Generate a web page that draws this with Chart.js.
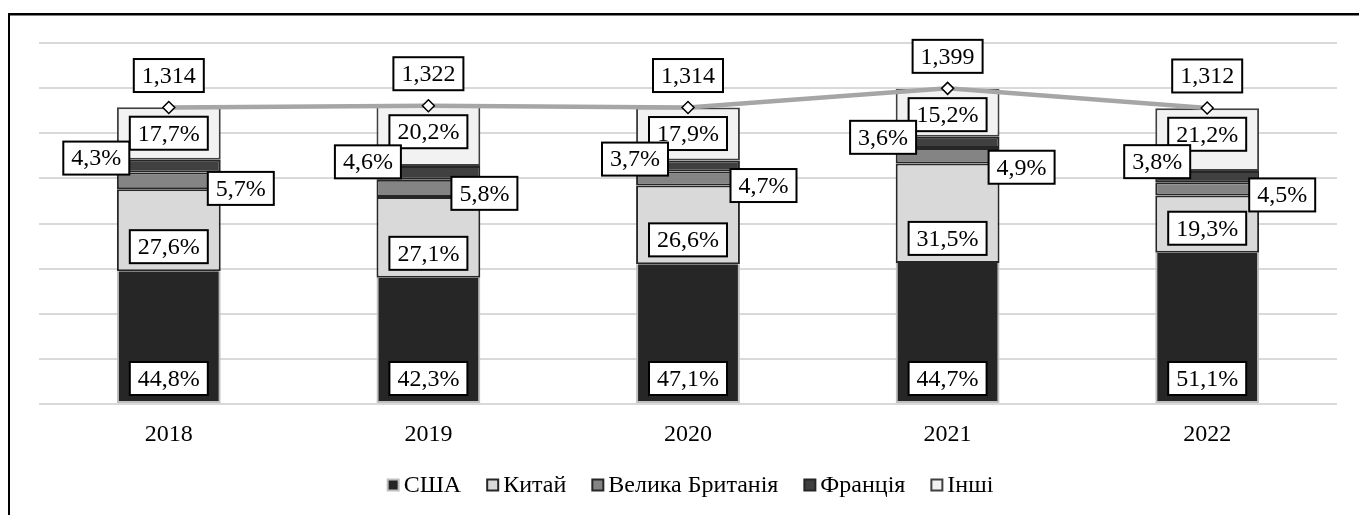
<!DOCTYPE html>
<html>
<head>
<meta charset="utf-8">
<script src="https://cdn.jsdelivr.net/npm/chart.js@4.4.1/dist/chart.umd.min.js"></script>
<style>
  html, body { margin: 0; padding: 0; background: #fff; }
  canvas { display: block; }
</style>
</head>
<body>
<canvas id="graph" width="1359" height="515"></canvas>
<script>
// ================================
// DATA
// ================================

const YEARS = ['2018', '2019', '2020', '2021', '2022'];
const TOTALS = [1.314, 1.322, 1.314, 1.399, 1.312];

// shares of the total, in %
const SHARE_USA    = [44.8, 42.3, 47.1, 44.7, 51.1];
const SHARE_CHINA  = [27.6, 27.1, 26.6, 31.5, 19.3];
const SHARE_UK     = [5.7, 5.8, 4.7, 4.9, 4.5];
const SHARE_FRANCE = [4.3, 4.6, 3.7, 3.6, 3.8];
const SHARE_OTHER  = [17.7, 20.2, 17.9, 15.2, 21.2];

const SERIES_NAMES = ['США', 'Китай', 'Велика Британія', 'Франція', 'Інші'];
const SERIES_SHARES = [SHARE_USA, SHARE_CHINA, SHARE_UK, SHARE_FRANCE, SHARE_OTHER];

const Y_MIN = 0;
const Y_MAX = 1.6;
const Y_STEP = 0.2;

// ================================
// STYLE
// ================================

const FONT = '"Liberation Serif", "Times New Roman", serif';

const SERIES_STYLE = [
  { fill: '#262626', edge: '#bfbfbf', place: 'base',  skip: 'top' },
  { fill: '#d9d9d9', edge: '#262626', place: 'base',  skip: false },
  { fill: '#848484', edge: '#262626', place: 'right', skip: false },
  { fill: '#404040', edge: '#262626', place: 'left',  skip: false },
  { fill: '#f2f2f2', edge: '#404040', place: 'top',   skip: false }
];

// hand-placed side labels (px from bar centre / segment centre)
const SHIFT_RIGHT = [[72, 7.5], [56, 5], [75.5, 7], [74, 11.5], [75, 6]];
const SHIFT_LEFT  = [[-72.5, -8], [-60.5, -11], [-53, -7], [-64.5, -5], [-50, -15]];

function virgule(v, d) {
  return v.toFixed(d).replace('.', ',');
}

function boite(ctx, text, x, y) {
  const w = ctx.measureText(text).width + 16;
  const h = 33;
  ctx.fillStyle = '#fff';
  ctx.fillRect(x - w / 2, y - h / 2, w, h);
  ctx.lineWidth = 2;
  ctx.strokeStyle = '#000';
  ctx.strokeRect(x - w / 2, y - h / 2, w, h);
  ctx.fillStyle = '#000';
  ctx.fillText(text, x, y + 1);
}

// ================================
// PLUGINS
// ================================

const cadre = {
  id: 'cadre',
  beforeDraw(chart) {
    const ctx = chart.ctx;
    ctx.save();
    ctx.fillStyle = '#fff';
    ctx.fillRect(0, 0, chart.width, chart.height);
    ctx.fillStyle = '#000';
    ctx.fillRect(8, 13, 2, chart.height - 13);
    ctx.fillRect(8, 13, chart.width - 8, 2.5);
    ctx.restore();
  }
};

const etiquettes = {
  id: 'etiquettes',
  afterDatasetsDraw(chart) {
    const ctx = chart.ctx;
    ctx.save();
    ctx.font = '24px ' + FONT;
    ctx.textAlign = 'center';
    ctx.textBaseline = 'middle';

    // totals above the line points
    const lineIndex = chart.data.datasets.length - 1;
    chart.getDatasetMeta(lineIndex).data.forEach(function(pt, i) {
      boite(ctx, virgule(TOTALS[i], 3), pt.x, pt.y - 32);
    });

    // bar labels: others first, France last (it sits on top)
    [4, 0, 1, 2, 3].forEach(function(s) {
      const place = SERIES_STYLE[s].place;
      chart.getDatasetMeta(s).data.forEach(function(bar, i) {
        const text = virgule(SERIES_SHARES[s][i], 1) + '%';
        const mid = (bar.y + bar.base) / 2;
        let x = bar.x;
        let y;
        if (place === 'base') y = bar.base - 24.5;
        else if (place === 'top') y = bar.y + 26;
        else if (place === 'right') { x += SHIFT_RIGHT[i][0]; y = mid + SHIFT_RIGHT[i][1]; }
        else { x += SHIFT_LEFT[i][0]; y = mid + SHIFT_LEFT[i][1]; }
        boite(ctx, text, x, y);
      });
    });
    ctx.restore();
  }
};

const legende = {
  id: 'legende',
  afterDraw(chart) {
    const ctx = chart.ctx;
    const box = 13, gapText = 4, gapItem = 25;
    ctx.save();
    ctx.font = '24px ' + FONT;
    ctx.textBaseline = 'middle';
    ctx.textAlign = 'left';
    const widths = SERIES_NAMES.map(function(n) {
      return box + gapText + ctx.measureText(n).width;
    });
    const total = widths.reduce(function(a, b) { return a + b; }, 0) + gapItem * (widths.length - 1);
    const area = chart.chartArea;
    let x = (area.left + area.right) / 2 + 2 - total / 2;
    const y = 485;
    SERIES_NAMES.forEach(function(n, s) {
      ctx.fillStyle = SERIES_STYLE[s].edge;
      ctx.fillRect(x, y - box / 2, box, box);
      ctx.fillStyle = SERIES_STYLE[s].fill;
      ctx.fillRect(x + 2, y - box / 2 + 2, box - 4, box - 4);
      ctx.fillStyle = '#000';
      ctx.fillText(n, x + box + gapText, y + 1);
      x += widths[s] + gapItem;
    });
    ctx.restore();
  }
};

// ================================
// CHART
// ================================

const datasets = SERIES_NAMES.map(function(nom, s) {
  return {
    type: 'bar',
    label: nom,
    stack: 'parts',
    order: 1,
    data: SERIES_SHARES[s].map(function(p, i) { return p / 100 * TOTALS[i]; }),
    backgroundColor: SERIES_STYLE[s].fill,
    borderColor: SERIES_STYLE[s].edge,
    borderWidth: 2,
    borderSkipped: SERIES_STYLE[s].skip,
    categoryPercentage: 1,
    barPercentage: 0.4
  };
});

datasets.push({
  type: 'line',
  label: 'Разом',
  stack: 'total',
  order: 0,
  data: TOTALS,
  borderColor: '#a6a6a6',
  borderWidth: 4.5,
  tension: 0,
  pointStyle: 'rectRot',
  pointRadius: 6,
  pointBackgroundColor: '#fff',
  pointBorderColor: '#000',
  pointBorderWidth: 1.5
});

new Chart(document.getElementById('graph'), {
  data: { labels: YEARS, datasets: datasets },
  plugins: [cadre, etiquettes, legende],
  options: {
    responsive: false,
    animation: false,
    devicePixelRatio: 1,
    layout: { padding: { left: 39, right: 22, top: 43, bottom: 0 } },
    plugins: {
      legend: { display: false },
      tooltip: { enabled: false }
    },
    scales: {
      x: {
        stacked: true,
        grid: { display: false, drawTicks: false },
        border: { display: false },
        ticks: { color: '#000', padding: 16, font: { family: FONT, size: 24 } },
        afterFit: function(scale) { scale.height = 111; }
      },
      y: {
        stacked: true,
        min: Y_MIN,
        max: Y_MAX,
        ticks: { stepSize: Y_STEP, display: false },
        grid: { color: '#d9d9d9', lineWidth: 2, drawTicks: false },
        border: { display: false }
      }
    }
  }
});
</script>
</body>
</html>
